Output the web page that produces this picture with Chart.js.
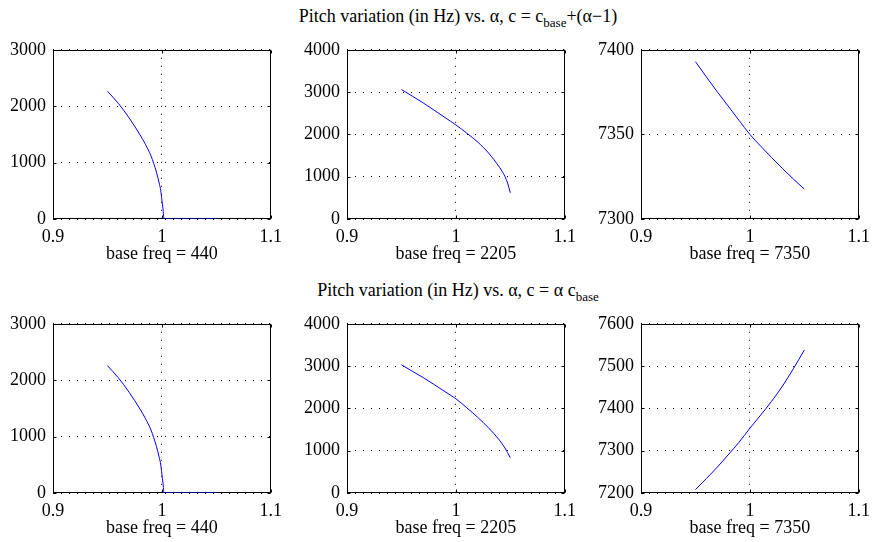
<!DOCTYPE html>
<html>
<head>
<meta charset="utf-8">
<script src="https://cdn.jsdelivr.net/npm/chart.js@4.4.0/dist/chart.umd.min.js"></script>
<style>
  body { margin: 0; background: #fff; }
  #wrap { position: relative; width: 875px; height: 542px; overflow: hidden; }
  #wrap canvas { position: absolute; }
  .suptitle {
    position: absolute; left: 0; width: 916px; text-align: center;
    font: 18px "Liberation Serif", "Times New Roman", serif; line-height: 18px;
    white-space: nowrap; color: #000;
  }
  .suptitle sub { font-size: 13px; vertical-align: -5px; line-height: 0; }
</style>
</head>
<body>
<div id="wrap">
  <div class="suptitle" style="top:7px">Pitch variation (in Hz) vs. α, c = c<sub>base</sub>+(α−1)</div>
  <div class="suptitle" style="top:281px">Pitch variation (in Hz) vs. α, c = α c<sub>base</sub></div>
  <canvas id="c1"></canvas>
  <canvas id="c2"></canvas>
  <canvas id="c3"></canvas>
  <canvas id="c4"></canvas>
  <canvas id="c5"></canvas>
  <canvas id="c6"></canvas>
</div>
<script>
// alpha samples (x axis)
const alphaLow = [0.95, 0.96, 0.97, 0.98, 0.985, 0.99, 0.9925, 0.995, 0.9975, 0.999, 1.0, 1.001, 1.002, 1.05];
const alphaMid = [0.95, 0.96, 0.97, 0.98, 0.99, 1.0, 1.01, 1.02, 1.03, 1.04, 1.0425, 1.045, 1.0475, 1.05];
const alpha = [0.95, 0.96, 0.97, 0.98, 0.99, 1.0, 1.01, 1.02, 1.03, 1.04, 1.05];

// top row: c = c_base + (alpha - 1)
const pitchAdd440 = [2265, 2050, 1790, 1490, 1320, 1120, 985, 830, 640, 500, 340, 185, 0, 0];
const pitchAdd2205 = [3060, 2905, 2744, 2573, 2399, 2224, 2030, 1820, 1560, 1225, 1125, 1010, 850, 620];
const pitchAdd7350 = [7393, 7384, 7375.2, 7366.8, 7358.3, 7350, 7343, 7336.3, 7329.8, 7323.6, 7317.7];

// bottom row: c = alpha * c_base
const pitchMul440 = [2258, 2043, 1784, 1486, 1316, 1117, 982, 826, 636, 496, 336, 182, 0, 0];
const pitchMul2205 = [3030, 2879, 2728, 2565, 2396, 2227, 2015, 1790, 1540, 1250, 1160, 1065, 955, 834];
const pitchMul7350 = [7208, 7234, 7261, 7290, 7320, 7353, 7384.5, 7417, 7453, 7494, 7538];

const baseFreqs = [440, 2205, 7350];
const xTicks = [0.9, 1.0, 1.1];

Chart.defaults.font.family = '"Liberation Serif", "Times New Roman", serif';
Chart.defaults.font.size = 18;
Chart.defaults.color = '#000';

// box around plot area + small inward ticks, drawn under the curve
const framePlugin = {
  id: 'frame',
  beforeDatasetsDraw(chart) {
    const { ctx, chartArea: a, scales } = chart;
    const L = Math.round(a.left) + 0.5, R = Math.round(a.right) - 0.5;
    const T = Math.round(a.top) + 0.5, B = Math.round(a.bottom) - 0.5;
    ctx.save();
    ctx.strokeStyle = '#000';
    ctx.lineWidth = 1;
    ctx.strokeRect(L, T, R - L, B - T);
    ctx.beginPath();
    scales.x.ticks.forEach(t => {
      const px = Math.round(scales.x.getPixelForValue(t.value)) + 0.5;
      ctx.moveTo(px, B); ctx.lineTo(px, B - 3);
      ctx.moveTo(px, T); ctx.lineTo(px, T + 3);
    });
    scales.y.ticks.forEach(t => {
      const py = Math.round(scales.y.getPixelForValue(t.value)) + 0.5;
      ctx.moveTo(L, py); ctx.lineTo(L + 3, py);
      ctx.moveTo(R, py); ctx.lineTo(R - 3, py);
    });
    ctx.stroke();
    ctx.restore();
  }
};

function makeChart(id, left, top, xs, ys, yMin, yMax, yStep, baseFreq) {
  const canvas = document.getElementById(id);
  canvas.width = 289;
  canvas.height = 237;
  canvas.style.left = (left - 53) + 'px';
  canvas.style.top = (top - 12) + 'px';
  return new Chart(canvas, {
    type: 'line',
    plugins: [framePlugin],
    data: {
      datasets: [{
        data: xs.map((x, i) => ({ x: x, y: ys[i] })),
        borderColor: '#0000ff',
        borderWidth: 1,
        pointRadius: 0,
        cubicInterpolationMode: 'monotone',
        fill: false
      }]
    },
    options: {
      responsive: false,
      animation: false,
      layout: { padding: { top: 12, right: 14, bottom: 0, left: 0 } },
      plugins: { legend: { display: false }, tooltip: { enabled: false } },
      scales: {
        x: {
          type: 'linear',
          min: 0.9,
          max: 1.1,
          afterBuildTicks: s => { s.ticks = xTicks.map(v => ({ value: v })); },
          afterFit: s => { s.height = 50; },
          ticks: { padding: 7, callback: v => String(+v.toFixed(1)) },
          grid: { color: '#000', lineWidth: 1, drawTicks: false },
          border: { display: false, dash: [1, 7] },
          title: { display: true, text: 'base freq = ' + baseFreq, padding: { top: 0, bottom: 4 } }
        },
        y: {
          type: 'linear',
          min: yMin,
          max: yMax,
          afterFit: s => { s.width = 53; },
          ticks: { stepSize: yStep, padding: 7, callback: v => String(v) },
          grid: { color: '#000', lineWidth: 1, drawTicks: false },
          border: { display: false, dash: [1, 7] }
        }
      }
    }
  });
}

const colLeft = [53, 347, 641];
const rowTop = [44, 318];

makeChart('c1', colLeft[0], rowTop[0], alphaLow, pitchAdd440, 0, 3000, 1000, baseFreqs[0]);
makeChart('c2', colLeft[1], rowTop[0], alphaMid, pitchAdd2205, 0, 4000, 1000, baseFreqs[1]);
makeChart('c3', colLeft[2], rowTop[0], alpha, pitchAdd7350, 7300, 7400, 50, baseFreqs[2]);
makeChart('c4', colLeft[0], rowTop[1], alphaLow, pitchMul440, 0, 3000, 1000, baseFreqs[0]);
makeChart('c5', colLeft[1], rowTop[1], alphaMid, pitchMul2205, 0, 4000, 1000, baseFreqs[1]);
makeChart('c6', colLeft[2], rowTop[1], alpha, pitchMul7350, 7200, 7600, 100, baseFreqs[2]);
</script>
</body>
</html>
